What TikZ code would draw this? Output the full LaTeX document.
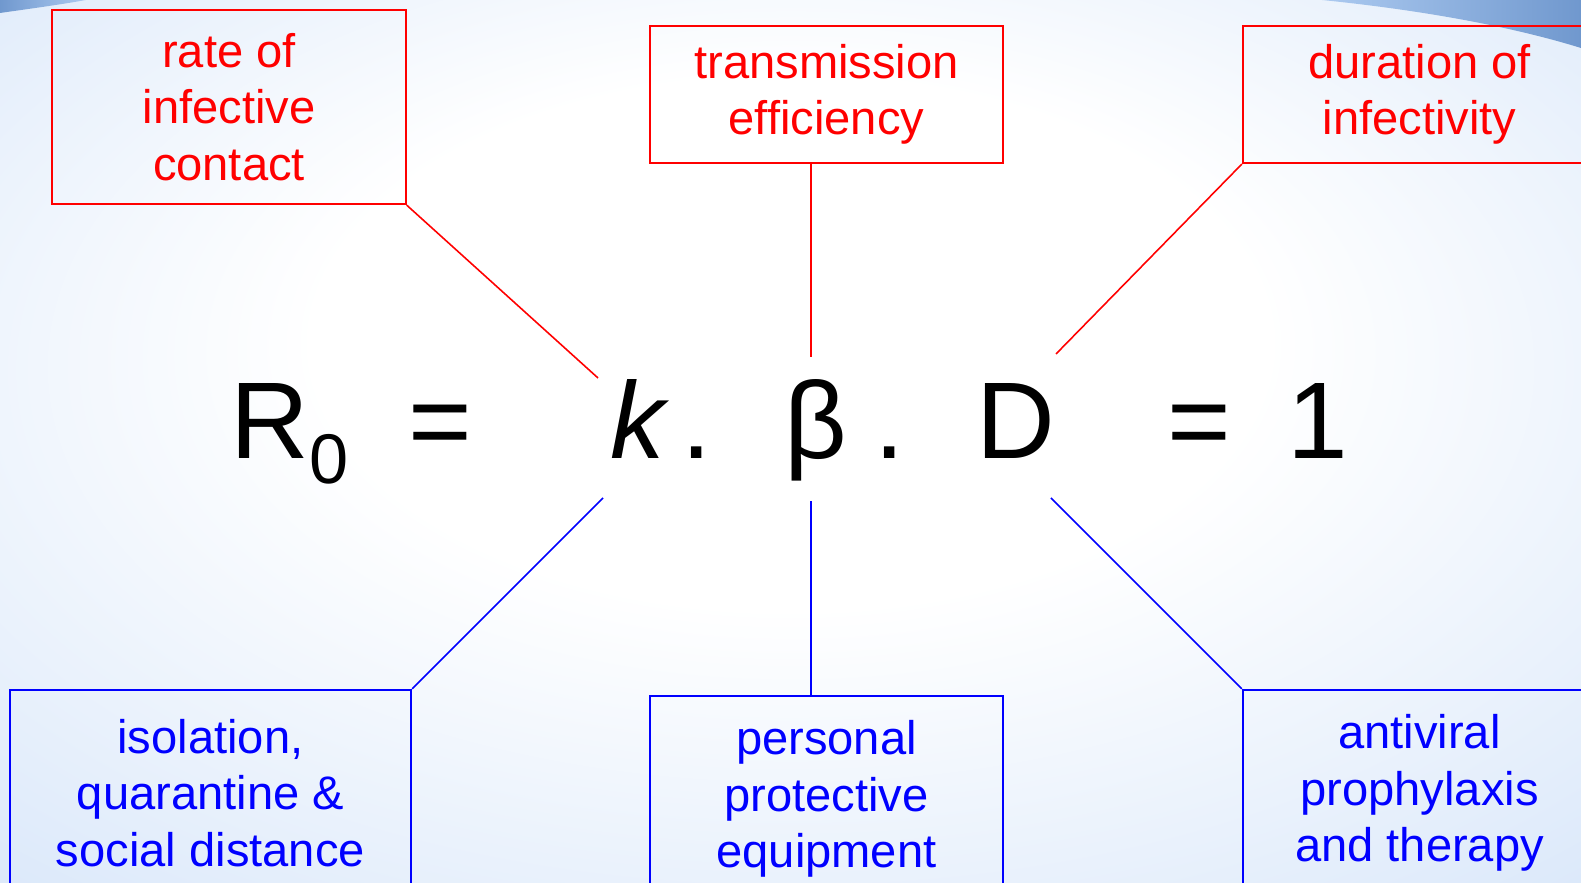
\documentclass[tikz,border=0pt]{standalone}
\usepackage{fontspec}
\setmainfont{Liberation Sans}
\usetikzlibrary{positioning}
\definecolor{bgblue}{RGB}{228,238,251}
\definecolor{bgdeep}{RGB}{198,219,248}
\definecolor{swoosh}{RGB}{112,152,206}
\definecolor{swooshlt}{RGB}{172,202,240}
\pgfdeclareradialshading{slidebg}{\pgfpoint{0bp}{8bp}}{color(0bp)=(white); color(15bp)=(white); color(32bp)=(bgblue); color(50bp)=(bgdeep)}
\newcommand{\termsize}{\fontsize{31pt}{31pt}\selectfont}
\newcommand{\boxsize}{\fontsize{13.4pt}{16.1pt}\selectfont}

\begin{document}
\begin{tikzpicture}[
  x=0.01cm, y=-0.01cm,
  cause/.style={draw=red, text=red, line width=0.6pt, align=center, font=\boxsize,
                minimum width=3.53cm, minimum height=1.94cm, inner sep=0pt},
  ctrl/.style={cause, draw=blue, text=blue, minimum height=2.06cm},
  term/.style={font=\termsize, inner sep=0pt, anchor=base},
  link/.style={line width=0.45pt}
]
  \useasboundingbox (0,0) rectangle (1581,883);
  \clip (0,0) rectangle (1581,883);

  % slide background
  \shade[shading=slidebg] (0,0) rectangle (1581,883);
  \shade[left color=swoosh, right color=swooshlt] (0,0) -- (86,0) .. controls (58,5) and (28,9) .. (0,13) -- cycle;
  \shade[left color=swooshlt, right color=swoosh] (1322,0) .. controls (1420,10) and (1510,26) .. (1581,48) -- (1581,0) -- cycle;

  % the equation
  \node[term] (R) at (270,459) {R};
  \node[term, font=\fontsize{20pt}{20pt}\selectfont] (sub) at (329,484) {0};
  \node[term] (eqa) at (440,459) {=};
  \node[term, font=\termsize\itshape] (k) at (638,459) {k};
  \node[term] (dota) at (697,459) {.};
  \node[term] (beta) at (816,459) {β};
  \node[term] (dotb) at (890,459) {.};
  \node[term] (D) at (1016,459) {D};
  \node[term] (eqb) at (1199,459) {=};
  \node[term] (one) at (1318,459) {1};

  % factors
  \node[cause] (rate) at (229,107) {rate of\\infective\\contact};
  \node[cause, minimum height=1.37cm] (trans) at (826.5,94.5) {transmission\\efficiency};
  \node[cause, minimum height=1.37cm] (dur) at (1419.5,94.5) {duration of\\infectivity};

  % interventions
  \node[ctrl, minimum width=4.01cm] (iso) at (210.5,793) {isolation,\\quarantine \&\\social distance};
  \node[ctrl] (ppe) at (826.5,799) {personal\\protective\\equipment};
  \node[ctrl] (anti) at (1419.5,793) {antiviral\\prophylaxis\\and therapy};

  \coordinate (kup) at (598,378);
  \coordinate (bup) at (811,357);
  \coordinate (dup) at (1056,354);
  \coordinate (kdn) at (603,498);
  \coordinate (bdn) at (811,501);
  \coordinate (ddn) at (1051,498);

  \draw[link, red] (rate.south east) -- (kup);
  \draw[link, red] (bup |- trans.south) -- (bup);
  \draw[link, red] (dur.south west) -- (dup);
  \draw[link, blue] (iso.north east) -- (kdn);
  \draw[link, blue] (bdn |- ppe.north) -- (bdn);
  \draw[link, blue] (anti.north west) -- (ddn);
\end{tikzpicture}
\end{document}
